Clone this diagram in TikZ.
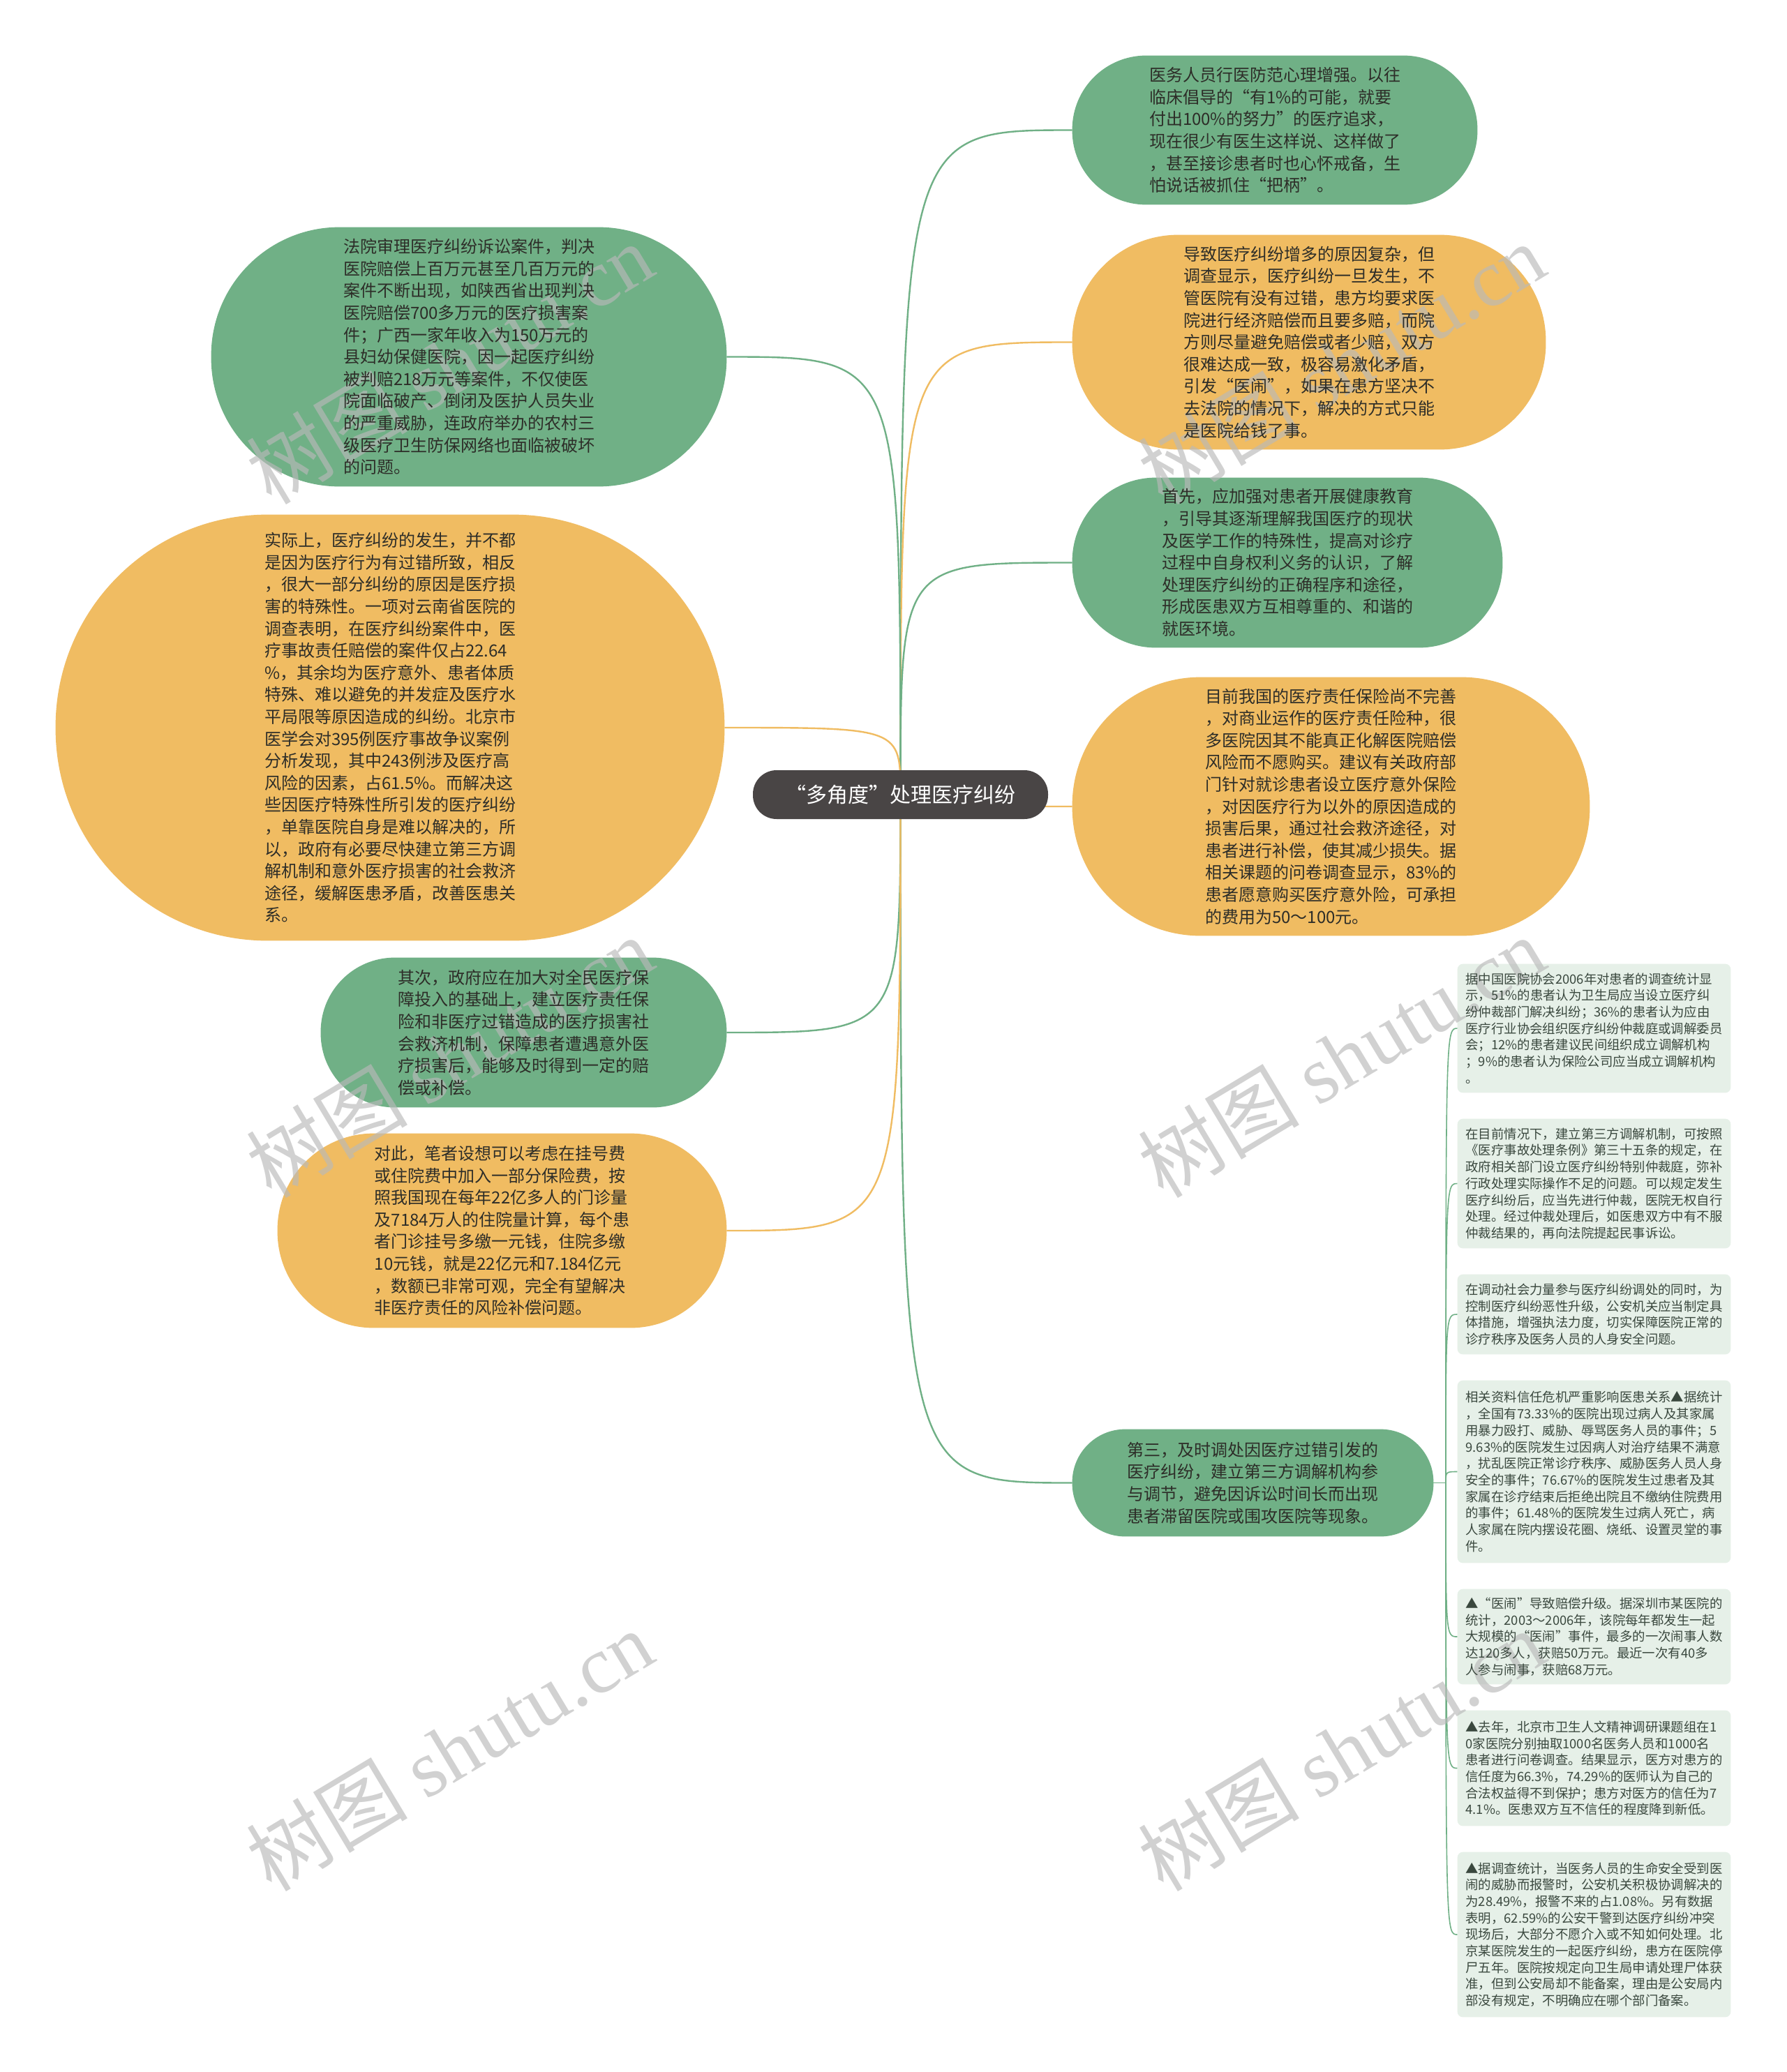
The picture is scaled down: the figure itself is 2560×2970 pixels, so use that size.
\documentclass[tikz,border=0pt]{standalone}
\usepackage{fontspec}
\setmainfont{Noto Sans CJK SC}
\newfontfamily\wmlatin{Liberation Serif}
\usetikzlibrary{calc}
\definecolor{gfill}{RGB}{112,176,134}
\definecolor{ofill}{RGB}{240,188,98}
\definecolor{rootc}{RGB}{73,69,69}
\definecolor{lfill}{RGB}{230,240,232}
\definecolor{txt}{RGB}{45,45,40}
\definecolor{ltxt}{RGB}{58,72,62}
\definecolor{wmc}{RGB}{185,185,185}
\pgfdeclarelayer{bg}
\pgfdeclarelayer{fills}
\pgfdeclarelayer{wml}
\pgfsetlayers{bg,fills,wml,main}
\newcommand\nodefill[3]{%
  \begin{pgfonlayer}{fills}
  \fill[#2, rounded corners=#3] (#1.south west) rectangle (#1.north east);
  \end{pgfonlayer}}
\tikzset{
  base/.style={align=left, inner sep=0pt, text=txt, font=\fontsize{12}{15.8}\selectfont},
  gbox/.style={base},
  obox/.style={base},
  leafbox/.style={align=left, inner sep=0pt, text=ltxt,
    minimum width=195.5pt, font=\fontsize{9.2}{11.85}\selectfont},
  gline/.style={draw=gfill, line width=1.2pt},
  oline/.style={draw=ofill, line width=1.2pt},
  lline/.style={draw=gfill, line width=0.8pt},
  wm/.style={text=wmc, text opacity=0.65, font=\fontsize{58}{60}\selectfont, inner sep=0pt},
}
\begin{document}
\begin{tikzpicture}[x=0.5pt, y=-0.5pt]
\useasboundingbox (0,0) rectangle (2560,2970);
\begin{pgfonlayer}{bg}
\fill[white] (0,0) rectangle (2560,2970);
\end{pgfonlayer}

% root
\node[fill=rootc, text=white, inner sep=0pt, font=\fontsize{15}{18}\selectfont,
  minimum width=211.5pt, minimum height=35pt, rounded corners=17pt] (root) at (1290.5,1139) {“多角度”处理医疗纠纷};

% right side
\node[gbox, minimum width=290pt, minimum height=106.5pt] (r1) at (1827,186.5) {%
医务人员行医防范心理增强。以往\\
临床倡导的“有1\%的可能，就要\\
付出100\%的努力”的医疗追求，\\
现在很少有医生这样说、这样做了\\
，甚至接诊患者时也心怀戒备，生\\
怕说话被抓住“把柄”。};
\nodefill{r1}{gfill}{53pt}

\node[obox, minimum width=339pt, minimum height=153.5pt] (r2) at (1876,490.5) {%
导致医疗纠纷增多的原因复杂，但\\
调查显示，医疗纠纷一旦发生，不\\
管医院有没有过错，患方均要求医\\
院进行经济赔偿而且要多赔，而院\\
方则尽量避免赔偿或者少赔，双方\\
很难达成一致，极容易激化矛盾，\\
引发“医闹”，如果在患方坚决不\\
去法院的情况下，解决的方式只能\\
是医院给钱了事。};
\nodefill{r2}{ofill}{76pt}

\node[gbox, minimum width=308pt, minimum height=121.5pt] (r3) at (1845,806.5) {%
首先，应加强对患者开展健康教育\\
，引导其逐渐理解我国医疗的现状\\
及医学工作的特殊性，提高对诊疗\\
过程中自身权利义务的认识，了解\\
处理医疗纠纷的正确程序和途径，\\
形成医患双方互相尊重的、和谐的\\
就医环境。};
\nodefill{r3}{gfill}{60pt}

\node[obox, minimum width=370.5pt, minimum height=185pt] (r4) at (1907.5,1156) {%
目前我国的医疗责任保险尚不完善\\
，对商业运作的医疗责任险种，很\\
多医院因其不能真正化解医院赔偿\\
风险而不愿购买。建议有关政府部\\
门针对就诊患者设立医疗意外保险\\
，对因医疗行为以外的原因造成的\\
损害后果，通过社会救济途径，对\\
患者进行补偿，使其减少损失。据\\
相关课题的问卷调查显示，83\%的\\
患者愿意购买医疗意外险，可承担\\
的费用为50～100元。};
\nodefill{r4}{ofill}{92pt}

\node[gbox, minimum width=258.5pt, minimum height=76.5pt] (r5) at (1795.5,2125.5) {%
第三，及时调处因医疗过错引发的\\
医疗纠纷，建立第三方调解机构参\\
与调节，避免因诉讼时间长而出现\\
患者滞留医院或围攻医院等现象。};
\nodefill{r5}{gfill}{38pt}

% left side
\node[gbox, minimum width=369pt, minimum height=185.5pt] (l1) at (672,511.5) {%
法院审理医疗纠纷诉讼案件，判决\\
医院赔偿上百万元甚至几百万元的\\
案件不断出现，如陕西省出现判决\\
医院赔偿700多万元的医疗损害案\\
件；广西一家年收入为150万元的\\
县妇幼保健医院，因一起医疗纠纷\\
被判赔218万元等案件，不仅使医\\
院面临破产、倒闭及医护人员失业\\
的严重威胁，连政府举办的农村三\\
级医疗卫生防保网络也面临被破坏\\
的问题。};
\nodefill{l1}{gfill}{92pt}

\node[obox, minimum width=479pt, minimum height=305pt] (l2) at (559,1043) {%
实际上，医疗纠纷的发生，并不都\\
是因为医疗行为有过错所致，相反\\
，很大一部分纠纷的原因是医疗损\\
害的特殊性。一项对云南省医院的\\
调查表明，在医疗纠纷案件中，医\\
疗事故责任赔偿的案件仅占22.64\\
\%，其余均为医疗意外、患者体质\\
特殊、难以避免的并发症及医疗水\\
平局限等原因造成的纠纷。北京市\\
医学会对395例医疗事故争议案例\\
分析发现，其中243例涉及医疗高\\
风险的因素，占61.5\%。而解决这\\
些因医疗特殊性所引发的医疗纠纷\\
，单靠医院自身是难以解决的，所\\
以，政府有必要尽快建立第三方调\\
解机制和意外医疗损害的社会救济\\
途径，缓解医患矛盾，改善医患关\\
系。};
\nodefill{l2}{ofill}{152pt}

\node[gbox, minimum width=290.5pt, minimum height=107pt] (l3) at (750.5,1480) {%
其次，政府应在加大对全民医疗保\\
障投入的基础上，建立医疗责任保\\
险和非医疗过错造成的医疗损害社\\
会救济机制，保障患者遭遇意外医\\
疗损害后，能够及时得到一定的赔\\
偿或补偿。};
\nodefill{l3}{gfill}{53pt}

\node[obox, minimum width=321.5pt, minimum height=139pt] (l4) at (719.5,1764) {%
对此，笔者设想可以考虑在挂号费\\
或住院费中加入一部分保险费，按\\
照我国现在每年22亿多人的门诊量\\
及7184万人的住院量计算，每个患\\
者门诊挂号多缴一元钱，住院多缴\\
10元钱，就是22亿元和7.184亿元\\
，数额已非常可观，完全有望解决\\
非医疗责任的风险补偿问题。};
\nodefill{l4}{ofill}{69pt}

% leaves
\node[leafbox, minimum height=92pt] (k1) at (2284.5,1474) {%
据中国医院协会2006年对患者的调查统计显\\
示，51\%的患者认为卫生局应当设立医疗纠\\
纷仲裁部门解决纠纷；36\%的患者认为应由\\
医疗行业协会组织医疗纠纷仲裁庭或调解委员\\
会；12\%的患者建议民间组织成立调解机构\\
；9\%的患者认为保险公司应当成立调解机构\\
。};
\nodefill{k1}{lfill}{4pt}

\node[leafbox, minimum height=92.5pt] (k2) at (2284.5,1696.5) {%
在目前情况下，建立第三方调解机制，可按照\\
《医疗事故处理条例》第三十五条的规定，在\\
政府相关部门设立医疗纠纷特别仲裁庭，弥补\\
行政处理实际操作不足的问题。可以规定发生\\
医疗纠纷后，应当先进行仲裁，医院无权自行\\
处理。经过仲裁处理后，如医患双方中有不服\\
仲裁结果的，再向法院提起民事诉讼。};
\nodefill{k2}{lfill}{4pt}

\node[leafbox, minimum height=57pt] (k3) at (2284.5,1884) {%
在调动社会力量参与医疗纠纷调处的同时，为\\
控制医疗纠纷恶性升级，公安机关应当制定具\\
体措施，增强执法力度，切实保障医院正常的\\
诊疗秩序及医务人员的人身安全问题。};
\nodefill{k3}{lfill}{4pt}

\node[leafbox, minimum height=130.5pt] (k4) at (2284.5,2109.5) {%
相关资料信任危机严重影响医患关系▲据统计\\
，全国有73.33\%的医院出现过病人及其家属\\
用暴力殴打、威胁、辱骂医务人员的事件；5\\
9.63\%的医院发生过因病人对治疗结果不满意\\
，扰乱医院正常诊疗秩序、威胁医务人员人身\\
安全的事件；76.67\%的医院发生过患者及其\\
家属在诊疗结束后拒绝出院且不缴纳住院费用\\
的事件；61.48\%的医院发生过病人死亡，病\\
人家属在院内摆设花圈、烧纸、设置灵堂的事\\
件。};
\nodefill{k4}{lfill}{4pt}

\node[leafbox, minimum height=68pt] (k5) at (2284.5,2346) {%
▲“医闹”导致赔偿升级。据深圳市某医院的\\
统计，2003～2006年，该院每年都发生一起\\
大规模的“医闹”事件，最多的一次闹事人数\\
达120多人，获赔50万元。最近一次有40多\\
人参与闹事，获赔68万元。};
\nodefill{k5}{lfill}{4pt}

\node[leafbox, minimum height=82.5pt] (k6) at (2284.5,2534.5) {%
▲去年，北京市卫生人文精神调研课题组在1\\
0家医院分别抽取1000名医务人员和1000名\\
患者进行问卷调查。结果显示，医方对患方的\\
信任度为66.3\%，74.29\%的医师认为自己的\\
合法权益得不到保护；患方对医方的信任为7\\
4.1\%。医患双方互不信任的程度降到新低。};
\nodefill{k6}{lfill}{4pt}

\node[leafbox, minimum height=118pt] (k7) at (2284.5,2773) {%
▲据调查统计，当医务人员的生命安全受到医\\
闹的威胁而报警时，公安机关积极协调解决的\\
为28.49\%，报警不来的占1.08\%。另有数据\\
表明，62.59\%的公安干警到达医疗纠纷冲突\\
现场后，大部分不愿介入或不知如何处理。北\\
京某医院发生的一起医疗纠纷，患方在医院停\\
尸五年。医院按规定向卫生局申请处理尸体获\\
准，但到公安局却不能备案，理由是公安局内\\
部没有规定，不明确应在哪个部门备案。};
\nodefill{k7}{lfill}{4pt}

\coordinate (hub) at (2072,2125.5);

% connectors
\begin{pgfonlayer}{bg}
\draw[gline] (root.center) .. controls (root.center |- r1.west) .. (r1.west);
\draw[oline] (root.center) .. controls (root.center |- r2.west) .. (r2.west);
\draw[gline] (root.center) .. controls (root.center |- r3.west) .. (r3.west);
\draw[oline] (root.center) .. controls (root.center |- r4.west) .. (r4.west);
\draw[gline] (root.center) .. controls (root.center |- r5.west) .. (r5.west);
\draw[gline] (root.center) .. controls (root.center |- l1.east) .. (l1.east);
\draw[oline] (root.center) .. controls (root.center |- l2.east) .. (l2.east);
\draw[gline] (root.center) .. controls (root.center |- l3.east) .. (l3.east);
\draw[oline] (root.center) .. controls (root.center |- l4.east) .. (l4.east);
\draw[lline] (r5.east) -- (hub);
\foreach \n in {k1,k2,k3,k4,k5,k6,k7}
  \draw[lline] (hub) .. controls (hub |- \n.west) .. (\n.west);
\end{pgfonlayer}

% watermarks (between fills and text)
\begin{pgfonlayer}{wml}
\foreach \p in {(644,521),(1922,521),(644,1515),(1922,1515),(644,2509),(1922,2509)}
  \node[wm, rotate=31] at \p {树图 {\wmlatin shutu.cn}};
\end{pgfonlayer}
\end{tikzpicture}
\end{document}
